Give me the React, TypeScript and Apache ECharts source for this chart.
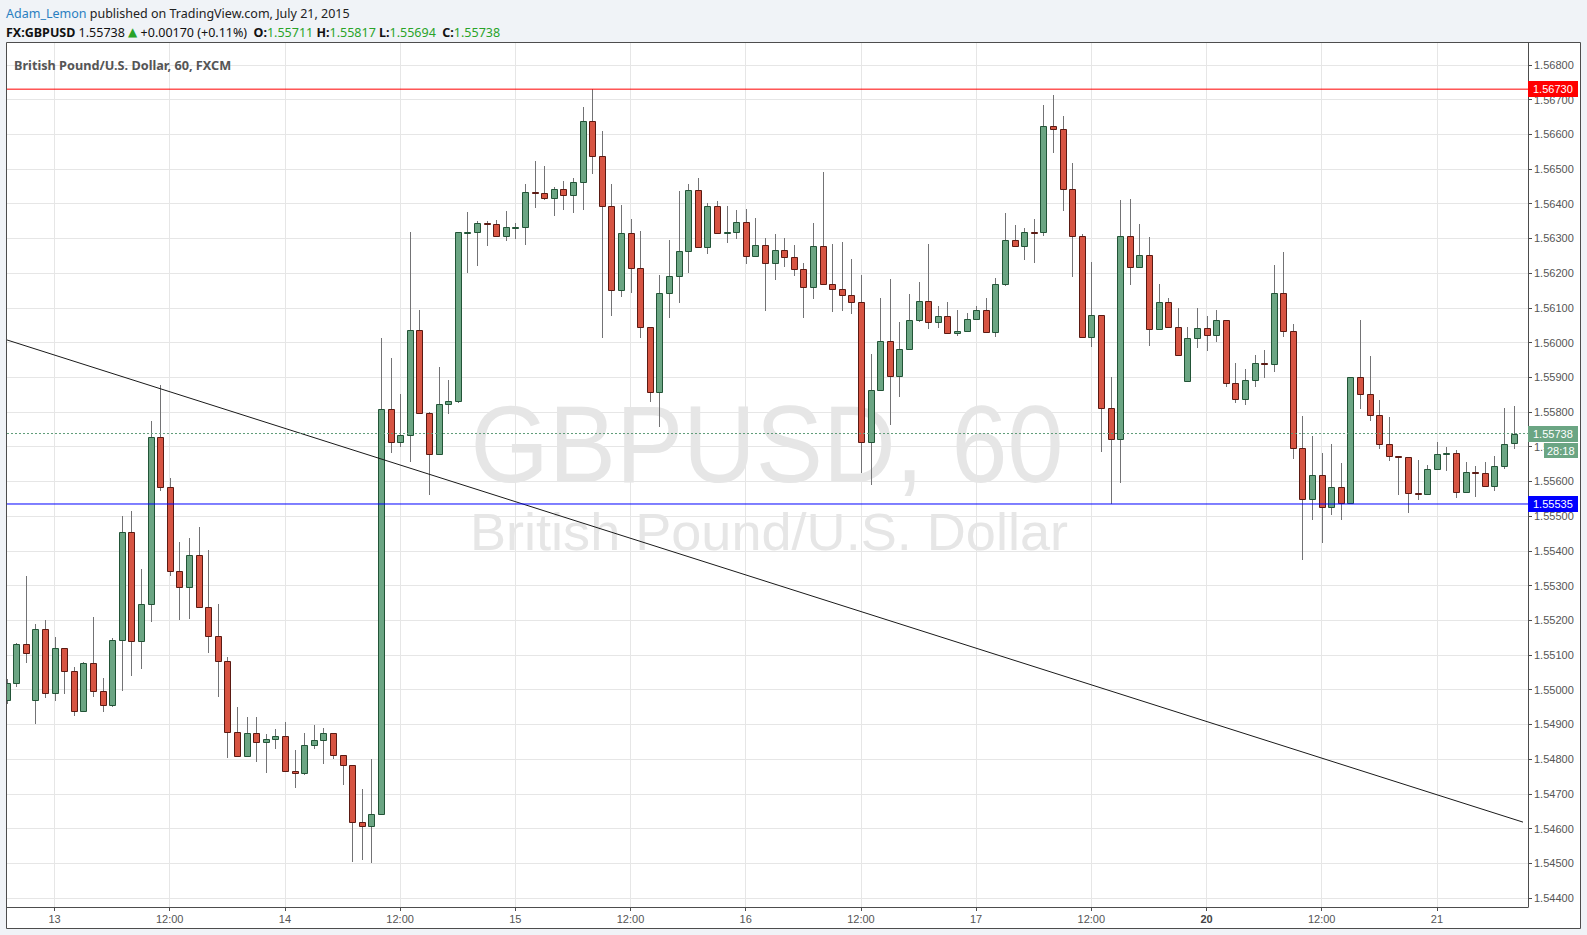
import React, { useEffect, useRef } from 'react';
import * as echarts from 'echarts';

// ---------- DATA (GBPUSD, 60 min, FXCM) ----------
const opens = [
  1.54970, 1.55020, 1.55131, 1.54969, 1.55174, 1.54991, 1.55119, 1.55054, 1.54940, 1.55076,
  1.54995, 1.54955, 1.55142, 1.55453, 1.55139, 1.55246, 1.55727, 1.55583, 1.55341, 1.55295,
  1.55387, 1.55239, 1.55154, 1.55084, 1.54877, 1.54808, 1.54874, 1.54848, 1.54857, 1.54868,
  1.54767, 1.54759, 1.54842, 1.54854, 1.54874, 1.54811, 1.54782, 1.54620, 1.54608, 1.54641,
  1.55808, 1.55713, 1.55733, 1.56035, 1.55796, 1.55678, 1.55822, 1.55831, 1.56318, 1.56318,
  1.56344, 1.56341, 1.56306, 1.56332, 1.56332, 1.56433, 1.56430, 1.56416, 1.56442, 1.56424,
  1.56462, 1.56638, 1.56537, 1.56393, 1.56151, 1.56315, 1.56214, 1.56044, 1.55857, 1.56142,
  1.56191, 1.56263, 1.56439, 1.56275, 1.56393, 1.56316, 1.56318, 1.56347, 1.56249, 1.56280,
  1.56229, 1.56266, 1.56246, 1.56211, 1.56159, 1.56278, 1.56168, 1.56154, 1.56136, 1.56116,
  1.55713, 1.55863, 1.56004, 1.55903, 1.55981, 1.56064, 1.56119, 1.56058, 1.56076, 1.56027,
  1.56033, 1.56067, 1.56093, 1.56030, 1.56168, 1.56295, 1.56278, 1.56318, 1.56318, 1.56623,
  1.56615, 1.56442, 1.56306, 1.56015, 1.56079, 1.55811, 1.55721, 1.56306, 1.56217, 1.56252,
  1.56038, 1.56116, 1.56044, 1.55888, 1.56012, 1.56041, 1.56021, 1.56064, 1.55883, 1.55837,
  1.55891, 1.55940, 1.55937, 1.56142, 1.56033, 1.55695, 1.55548, 1.55618, 1.55525, 1.55583,
  1.55537, 1.55900, 1.55851, 1.55790, 1.55707, 1.55672, 1.55669, 1.55566, 1.55563, 1.55635,
  1.55678, 1.55681, 1.55569, 1.55626, 1.55623, 1.55586, 1.55644, 1.55711,
];
const highs = [
  1.55030, 1.55134, 1.55327, 1.55189, 1.55201, 1.55152, 1.55120, 1.55065, 1.55080, 1.55209,
  1.55033, 1.55149, 1.55500, 1.55515, 1.55348, 1.55774, 1.55878, 1.55610, 1.55425, 1.55437,
  1.55469, 1.55402, 1.55247, 1.55094, 1.54950, 1.54921, 1.54921, 1.54872, 1.54886, 1.54907,
  1.54826, 1.54875, 1.54898, 1.54889, 1.54875, 1.54811, 1.54783, 1.54713, 1.54800, 1.56014,
  1.55956, 1.55852, 1.56319, 1.56094, 1.55800, 1.55930, 1.55892, 1.56318, 1.56376, 1.56350,
  1.56350, 1.56353, 1.56379, 1.56345, 1.56457, 1.56524, 1.56509, 1.56448, 1.56466, 1.56473,
  1.56679, 1.56730, 1.56610, 1.56456, 1.56397, 1.56356, 1.56322, 1.56044, 1.56195, 1.56296,
  1.56437, 1.56456, 1.56473, 1.56401, 1.56407, 1.56393, 1.56381, 1.56384, 1.56359, 1.56301,
  1.56312, 1.56301, 1.56280, 1.56229, 1.56344, 1.56492, 1.56283, 1.56289, 1.56240, 1.56194,
  1.55966, 1.56128, 1.56182, 1.56058, 1.56139, 1.56174, 1.56283, 1.56105, 1.56116, 1.56093,
  1.56084, 1.56105, 1.56128, 1.56185, 1.56373, 1.56338, 1.56329, 1.56355, 1.56684, 1.56713,
  1.56652, 1.56517, 1.56312, 1.56231, 1.56079, 1.55902, 1.56410, 1.56414, 1.56341, 1.56303,
  1.56168, 1.56128, 1.56099, 1.56044, 1.56100, 1.56077, 1.56094, 1.56064, 1.55940, 1.55924,
  1.55963, 1.55979, 1.56223, 1.56260, 1.56053, 1.55788, 1.55730, 1.55681, 1.55707, 1.55652,
  1.55900, 1.56064, 1.55960, 1.55834, 1.55785, 1.55672, 1.55669, 1.55661, 1.55646, 1.55713,
  1.55698, 1.55690, 1.55655, 1.55644, 1.55655, 1.55672, 1.55812, 1.55817,
];
const lows = [
  1.54960, 1.55008, 1.55078, 1.54902, 1.54977, 1.54967, 1.54987, 1.54925, 1.54936, 1.54980,
  1.54935, 1.54951, 1.54997, 1.55039, 1.55060, 1.55196, 1.55573, 1.55328, 1.55201, 1.55204,
  1.55236, 1.55106, 1.54980, 1.54804, 1.54808, 1.54808, 1.54792, 1.54761, 1.54830, 1.54763,
  1.54717, 1.54755, 1.54828, 1.54787, 1.54801, 1.54726, 1.54504, 1.54510, 1.54501, 1.54641,
  1.55683, 1.55700, 1.55657, 1.55796, 1.55562, 1.55678, 1.55793, 1.55825, 1.56199, 1.56222,
  1.56279, 1.56306, 1.56294, 1.56298, 1.56280, 1.56389, 1.56410, 1.56366, 1.56383, 1.56374,
  1.56383, 1.56487, 1.56014, 1.56076, 1.56131, 1.56142, 1.56012, 1.55830, 1.55758, 1.56070,
  1.56113, 1.56200, 1.56272, 1.56254, 1.56312, 1.56286, 1.56298, 1.56226, 1.56246, 1.56090,
  1.56180, 1.56217, 1.56191, 1.56070, 1.56125, 1.56168, 1.56087, 1.56090, 1.56082, 1.55625,
  1.55590, 1.55863, 1.55762, 1.55842, 1.55981, 1.56058, 1.56038, 1.56041, 1.56027, 1.56018,
  1.56033, 1.56067, 1.56030, 1.56017, 1.56162, 1.56275, 1.56237, 1.56229, 1.56306, 1.56546,
  1.56378, 1.56188, 1.56015, 1.55986, 1.55686, 1.55535, 1.55596, 1.56165, 1.56217, 1.55989,
  1.56038, 1.56044, 1.55963, 1.55888, 1.55984, 1.55975, 1.56001, 1.55873, 1.55825, 1.55819,
  1.55873, 1.55897, 1.55916, 1.56017, 1.55664, 1.55374, 1.55488, 1.55422, 1.55502, 1.55488,
  1.55537, 1.55808, 1.55773, 1.55692, 1.55658, 1.55560, 1.55508, 1.55546, 1.55560, 1.55635,
  1.55629, 1.55551, 1.55569, 1.55554, 1.55583, 1.55572, 1.55635, 1.55694,
];
const closes = [
  1.55020, 1.55131, 1.55106, 1.55174, 1.54991, 1.55119, 1.55054, 1.54940, 1.55076, 1.54995,
  1.54955, 1.55142, 1.55453, 1.55139, 1.55246, 1.55727, 1.55583, 1.55341, 1.55295, 1.55387,
  1.55239, 1.55154, 1.55084, 1.54877, 1.54808, 1.54874, 1.54848, 1.54857, 1.54868, 1.54767,
  1.54759, 1.54842, 1.54854, 1.54874, 1.54811, 1.54782, 1.54620, 1.54608, 1.54641, 1.55808,
  1.55713, 1.55733, 1.56035, 1.55796, 1.55678, 1.55822, 1.55831, 1.56318, 1.56318, 1.56344,
  1.56341, 1.56306, 1.56332, 1.56332, 1.56433, 1.56430, 1.56416, 1.56442, 1.56424, 1.56462,
  1.56638, 1.56537, 1.56393, 1.56151, 1.56315, 1.56214, 1.56044, 1.55857, 1.56142, 1.56191,
  1.56263, 1.56439, 1.56275, 1.56393, 1.56315, 1.56318, 1.56347, 1.56249, 1.56280, 1.56229,
  1.56266, 1.56246, 1.56211, 1.56159, 1.56278, 1.56168, 1.56154, 1.56136, 1.56116, 1.55713,
  1.55863, 1.56004, 1.55903, 1.55981, 1.56064, 1.56119, 1.56058, 1.56076, 1.56027, 1.56033,
  1.56067, 1.56093, 1.56030, 1.56168, 1.56295, 1.56278, 1.56318, 1.56317, 1.56623, 1.56615,
  1.56442, 1.56306, 1.56015, 1.56079, 1.55811, 1.55721, 1.56306, 1.56217, 1.56252, 1.56038,
  1.56116, 1.56044, 1.55963, 1.56012, 1.56041, 1.56021, 1.56064, 1.55883, 1.55837, 1.55891,
  1.55940, 1.55937, 1.56142, 1.56033, 1.55695, 1.55548, 1.55618, 1.55525, 1.55583, 1.55537,
  1.55900, 1.55851, 1.55790, 1.55707, 1.55672, 1.55669, 1.55566, 1.55563, 1.55635, 1.55678,
  1.55681, 1.55569, 1.55626, 1.55623, 1.55586, 1.55644, 1.55707, 1.55738,
];

// time axis: bar index -> label
const timeLabelIndex = [5, 17, 29, 41, 53, 65, 77, 89, 101, 113, 125, 137, 149];
const timeLabels = ['13', '12:00', '14', '12:00', '15', '12:00', '16', '12:00', '17', '12:00', '20', '12:00', '21'];
const weekStartLabel = '20';

// price axis ticks
const priceTicks = [
  1.544, 1.545, 1.546, 1.547, 1.548, 1.549, 1.550, 1.551, 1.552, 1.553, 1.554, 1.555, 1.556,
  1.557, 1.558, 1.559, 1.560, 1.561, 1.562, 1.563, 1.564, 1.565, 1.566, 1.567, 1.568,
];

// visible ranges
const xRange = [0.05, 158.49];
const yRange = [1.54374, 1.56863];

// drawn levels and trend line (bar index, price)
const resistanceLevel = 1.5673;
const supportLevel = 1.55535;
const lastPrice = 1.55738;
const countdown = '28:18';
const trendLine = [[0.05, 1.560075], [157.97, 1.546185]];

// header info
const author = 'Adam_Lemon';
const published = 'published on TradingView.com, July 21, 2015';
const symbol = 'FX:GBPUSD';
const priceChange = 0.0017;
const priceChangePct = 0.11;
const paneTitle = 'British Pound/U.S. Dollar, 60, FXCM';
const watermark1 = 'GBPUSD, 60';
const watermark2 = 'British Pound/U.S. Dollar';

// ---------- STYLE ----------
const UP_FILL = '#6ba583';
const UP_BORDER = '#225437';
const DN_FILL = '#d75442';
const DN_BORDER = '#5b1a13';
const WICK = '#737375';
const GRID = '#e6e6e6';
const AXIS = '#4d4d4d';
const UI_FONT = "'Noto Sans', 'Open Sans', sans-serif";
const AX_FONT = "'Liberation Sans', Arial, sans-serif";
const HEAD_SIZE = 12.5;

export default function App() {
  const ref = useRef<HTMLDivElement>(null);

  useEffect(() => {
    document.body.style.margin = '0';
    const chart = echarts.init(ref.current!, null, { renderer: 'svg' });
    const candles = opens.map((o, i) => [i, o, closes[i], lows[i], highs[i]]);
    const last = opens.length - 1;

    const levelSeries = (level: number, color: string, type: any) => ({
      type: 'line',
      data: [[xRange[0], level], [xRange[1], level]],
      symbol: 'none',
      silent: true,
      z: 4,
      lineStyle: { color, width: 1, type },
    });

    const option: any = {
      animation: false,
      backgroundColor: '#f0f3f7',
      grid: {
        left: 7, top: 43, width: 1521, height: 864,
        containLabel: false, outerBoundsMode: 'none', show: false,
      },
      xAxis: {
        type: 'value',
        min: xRange[0],
        max: xRange[1],
        axisLine: { show: true, onZero: false, lineStyle: { color: AXIS, width: 1 } },
        axisTick: { show: true, customValues: timeLabelIndex, length: 4, lineStyle: { color: AXIS } },
        axisLabel: {
          customValues: timeLabelIndex,
          color: '#555',
          fontSize: 11,
          fontFamily: AX_FONT,
          margin: 6,
          formatter: (v: number) => {
            const k = timeLabelIndex.indexOf(Math.round(v));
            if (k < 0) return '';
            const t = timeLabels[k];
            return t === weekStartLabel ? `{b|${t}}` : t;
          },
          rich: { b: { fontWeight: 'bold', fontSize: 11, fontFamily: AX_FONT, color: '#444' } },
        },
        splitLine: { show: true, lineStyle: { color: GRID, width: 1 } },
      },
      yAxis: {
        type: 'value',
        position: 'right',
        min: yRange[0],
        max: yRange[1],
        axisLine: { show: true, onZero: false, lineStyle: { color: AXIS, width: 1 } },
        axisTick: { show: true, customValues: priceTicks, length: 4, lineStyle: { color: AXIS } },
        axisLabel: {
          customValues: priceTicks,
          color: '#555',
          fontSize: 11,
          fontFamily: AX_FONT,
          margin: 6,
          formatter: (v: number) => v.toFixed(5),
        },
        splitLine: { show: true, lineStyle: { color: GRID, width: 1 } },
      },
      series: [
        {
          type: 'custom',
          name: 'GBPUSD',
          clip: true,
          z: 3,
          data: candles,
          encode: { x: 0, y: [1, 2, 3, 4] },
          renderItem: (params: any, api: any) => {
            const i = api.value(0);
            const o = api.value(1);
            const c = api.value(2);
            const l = api.value(3);
            const h = api.value(4);
            const pO = api.coord([i, o]);
            const pC = api.coord([i, c]);
            const pL = api.coord([i, l]);
            const pH = api.coord([i, h]);
            const cx = Math.round(pO[0]);
            const up = c >= o;
            const top = Math.round(Math.min(pO[1], pC[1]));
            const bot = Math.round(Math.max(pO[1], pC[1]));
            const bh = Math.max(bot - top, 1);
            return {
              type: 'group',
              children: [
                {
                  type: 'line',
                  shape: { x1: cx + 0.5, y1: Math.round(pH[1]), x2: cx + 0.5, y2: Math.round(pL[1]) },
                  style: { stroke: WICK, lineWidth: 1 },
                },
                {
                  type: 'rect',
                  shape: { x: cx - 2.5, y: top + 0.5, width: 6, height: bh },
                  style: { fill: up ? UP_FILL : DN_FILL, stroke: up ? UP_BORDER : DN_BORDER, lineWidth: 1 },
                },
              ],
            };
          },
        },
        {
          type: 'line',
          name: 'trend',
          data: trendLine,
          symbol: 'none',
          silent: true,
          z: 4,
          lineStyle: { color: '#1a1a1a', width: 1 },
        },
        levelSeries(resistanceLevel, '#ff0000', 'solid'),
        levelSeries(supportLevel, '#0000ff', 'solid'),
        levelSeries(lastPrice, '#5f9c78', [2, 2]),
      ],
    };
    chart.setOption(option);

    const yOf = (p: number) => chart.convertToPixel({ yAxisIndex: 0 }, p) as number;
    const priceBox = (p: number, fill: string) => {
      const y = Math.round(yOf(p));
      return [
        { type: 'rect', z: 20, shape: { x: 1528, y: y - 8, width: 50, height: 16 }, style: { fill } },
        {
          type: 'text', z: 21, x: 1533, y: y,
          style: { text: p.toFixed(5), fill: '#ffffff', fontSize: 11, fontFamily: AX_FONT, verticalAlign: 'middle' },
        },
      ];
    };
    const yLast = Math.round(yOf(lastPrice));

    const sign = priceChange >= 0 ? '+' : '';
    const line2 =
      `{k|${symbol}} {n|${closes[last].toFixed(5)}} {tri|▲}{n| ${sign}${priceChange.toFixed(5)} (${sign}${priceChangePct.toFixed(2)}%)} ` +
      ` {k|O:}{g|${opens[last].toFixed(5)}} {k|H:}{g|${highs[last].toFixed(5)}} {k|L:}{g|${lows[last].toFixed(5)}}  {k|C:}{g|${closes[last].toFixed(5)}}`;

    const elements: any[] = [
      // chart pane
      {
        type: 'rect', z: -10,
        shape: { x: 6.5, y: 42.5, width: 1574, height: 886 },
        style: { fill: '#ffffff', stroke: AXIS, lineWidth: 1 },
      },
      // watermark
      {
        type: 'text', z: -5, x: 767, y: 444, scaleX: 0.915,
        style: {
          text: watermark1, fill: '#e6e6e6', fontSize: 110, fontFamily: AX_FONT,
          align: 'center', verticalAlign: 'middle',
        },
      },
      {
        type: 'text', z: -5, x: 769, y: 532, scaleX: 1.04,
        style: {
          text: watermark2, fill: '#e6e6e6', fontSize: 52, fontFamily: AX_FONT,
          align: 'center', verticalAlign: 'middle',
        },
      },
      // pane title
      {
        type: 'text', z: 10, x: 14, y: 65,
        style: {
          text: paneTitle, fill: '#555555', fontSize: 12.7, fontWeight: 'bold', fontFamily: UI_FONT,
          verticalAlign: 'middle',
        },
      },
      // header line 1
      {
        type: 'text', z: 10, x: 6, y: 13,
        style: {
          text: `{u|${author}} {t|${published}}`,
          fontSize: HEAD_SIZE, fontFamily: UI_FONT, fill: '#222', verticalAlign: 'middle',
          rich: {
            u: { fill: '#2a7fc1', fontSize: HEAD_SIZE, fontFamily: UI_FONT },
            t: { fill: '#222222', fontSize: HEAD_SIZE, fontFamily: UI_FONT },
          },
        },
      },
      // header line 2
      {
        type: 'text', z: 10, x: 6, y: 32,
        style: {
          text: line2,
          fontSize: HEAD_SIZE, fontFamily: UI_FONT, fill: '#111', verticalAlign: 'middle',
          rich: {
            k: { fill: '#111111', fontSize: HEAD_SIZE, fontFamily: UI_FONT, fontWeight: 'bold' },
            n: { fill: '#111111', fontSize: HEAD_SIZE, fontFamily: UI_FONT },
            g: { fill: '#29a329', fontSize: HEAD_SIZE, fontFamily: UI_FONT },
            tri: { fill: '#29a329', fontSize: 12, fontFamily: "'DejaVu Sans', sans-serif" },
          },
        },
      },
      ...priceBox(resistanceLevel, '#ff0000'),
      ...priceBox(supportLevel, '#0000ff'),
      ...priceBox(lastPrice, '#6ba583'),
      { type: 'rect', z: 20, shape: { x: 1544, y: yLast + 9, width: 34, height: 15 }, style: { fill: '#6ba583' } },
      {
        type: 'text', z: 21, x: 1547, y: yLast + 16.5,
        style: { text: countdown, fill: '#ffffff', fontSize: 11, fontFamily: AX_FONT, verticalAlign: 'middle' },
      },
    ];
    chart.setOption({ graphic: { elements } });

    return () => chart.dispose();
  }, []);

  return <div ref={ref} style={{ position: 'absolute', left: 0, top: 0, width: 1587, height: 935 }} />;
}
